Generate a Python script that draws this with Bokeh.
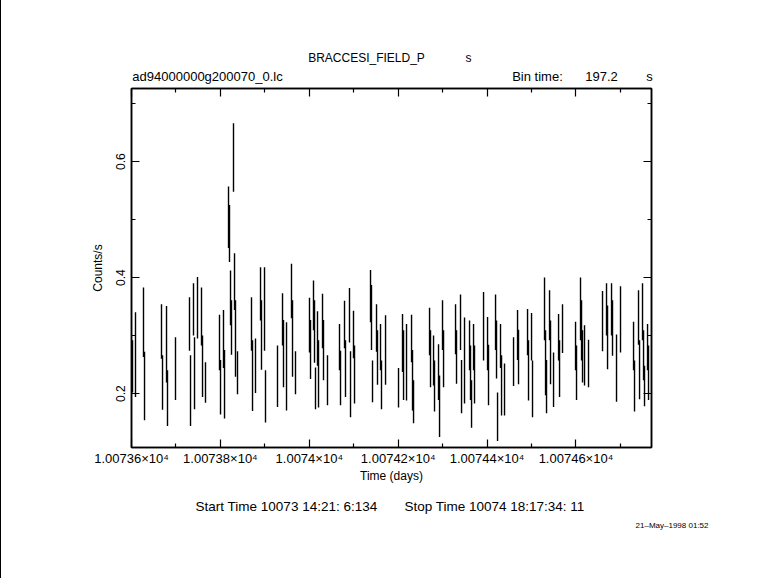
from bokeh.plotting import figure
from bokeh.models import Range1d, FixedTicker, LinearAxis, ColumnDataSource, Title
from bokeh.embed import file_html
from bokeh.resources import INLINE

# ---- data ----
time_days = [
    10073.6023, 10073.6090, 10073.6270, 10073.6293, 10073.6675, 10073.6698, 10073.6788, 10073.6810,
    10073.6990, 10073.7305, 10073.7328, 10073.7395, 10073.7418, 10073.7485, 10073.7575, 10073.7598,
    10073.7665, 10073.7980, 10073.8003, 10073.8070, 10073.8093, 10073.8183, 10073.8205, 10073.8228,
    10073.8250, 10073.8295, 10073.8318, 10073.8340, 10073.8385, 10073.8700, 10073.8723, 10073.8790,
    10073.8903, 10073.8925, 10073.8993, 10073.9015, 10073.9285, 10073.9398, 10073.9420, 10073.9488,
    10073.9600, 10073.9623, 10073.9690, 10074.0005, 10074.0028, 10074.0095, 10074.0118, 10074.0140,
    10074.0185, 10074.0208, 10074.0298, 10074.0320, 10074.0410, 10074.0680, 10074.0703, 10074.0793,
    10074.0815, 10074.0905, 10074.0928, 10074.0995, 10074.1018, 10074.1378, 10074.1400, 10074.1423,
    10074.1513, 10074.1535, 10074.1603, 10074.1625, 10074.1716, 10074.2008, 10074.2098, 10074.2121,
    10074.2188, 10074.2301, 10074.2323, 10074.2346, 10074.2706, 10074.2728, 10074.2796, 10074.2818,
    10074.2908, 10074.2931, 10074.2998, 10074.3021, 10074.3291, 10074.3313, 10074.3403, 10074.3426,
    10074.3493, 10074.3606, 10074.3628, 10074.3651, 10074.3696, 10074.3718, 10074.3921, 10074.4011,
    10074.4033, 10074.4191, 10074.4213, 10074.4236, 10074.4303, 10074.4326, 10074.4393, 10074.4596,
    10074.4686, 10074.4708, 10074.4911, 10074.4933, 10074.5001, 10074.5023, 10074.5293, 10074.5316,
    10074.5338, 10074.5406, 10074.5428, 10074.5496, 10074.5609, 10074.5631, 10074.5698, 10074.5991,
    10074.6013, 10074.6103, 10074.6126, 10074.6148, 10074.6193, 10074.6283, 10074.6598, 10074.6688,
    10074.6711, 10074.6801, 10074.6823, 10074.6913, 10074.7003, 10074.7296, 10074.7318, 10074.7408,
    10074.7431, 10074.7498, 10074.7521, 10074.7543, 10074.7611, 10074.7633,
]
rate = [
    0.247, 0.267, 0.323, 0.213, 0.307, 0.219, 0.285, 0.192,
    0.243, 0.320, 0.205, 0.345, 0.235, 0.348, 0.333, 0.247,
    0.219, 0.288, 0.211, 0.294, 0.216, 0.504, 0.476, 0.365,
    0.314, 0.607, 0.393, 0.295, 0.236, 0.320, 0.231, 0.248,
    0.372, 0.301, 0.346, 0.195, 0.230, 0.328, 0.269, 0.247,
    0.377, 0.295, 0.236, 0.318, 0.276, 0.352, 0.307, 0.209,
    0.295, 0.234, 0.325, 0.275, 0.223, 0.280, 0.227, 0.319,
    0.243, 0.335, 0.216, 0.302, 0.233, 0.368, 0.331, 0.221,
    0.313, 0.262, 0.280, 0.215, 0.275, 0.210, 0.287, 0.249,
    0.254, 0.295, 0.223, 0.186, 0.307, 0.260, 0.257, 0.213,
    0.237, 0.178, 0.318, 0.260, 0.311, 0.263, 0.323, 0.212,
    0.257, 0.283, 0.236, 0.182, 0.280, 0.233, 0.316, 0.286,
    0.232, 0.323, 0.276, 0.160, 0.282, 0.214, 0.207, 0.255,
    0.301, 0.263, 0.306, 0.240, 0.298, 0.208, 0.346, 0.253,
    0.212, 0.335, 0.271, 0.224, 0.297, 0.243, 0.312, 0.282,
    0.236, 0.346, 0.309, 0.264, 0.266, 0.252, 0.325, 0.345,
    0.297, 0.345, 0.313, 0.244, 0.328, 0.282, 0.213, 0.331,
    0.241, 0.341, 0.266, 0.213, 0.280, 0.236,
]
rate_err = [
    0.045, 0.073, 0.060, 0.059, 0.047, 0.047, 0.066, 0.048,
    0.054, 0.046, 0.061, 0.045, 0.062, 0.053, 0.050, 0.053,
    0.035, 0.048, 0.047, 0.050, 0.059, 0.053, 0.049, 0.047,
    0.047, 0.059, 0.049, 0.066, 0.037, 0.046, 0.061, 0.047,
    0.046, 0.060, 0.072, 0.045, 0.053, 0.045, 0.058, 0.076,
    0.047, 0.066, 0.037, 0.047, 0.051, 0.043, 0.054, 0.036,
    0.047, 0.058, 0.047, 0.052, 0.043, 0.040, 0.047, 0.041,
    0.049, 0.047, 0.057, 0.041, 0.050, 0.045, 0.056, 0.036,
    0.041, 0.047, 0.040, 0.042, 0.060, 0.034, 0.050, 0.060,
    0.066, 0.041, 0.052, 0.037, 0.041, 0.049, 0.043, 0.044,
    0.048, 0.053, 0.043, 0.049, 0.043, 0.046, 0.048, 0.046,
    0.074, 0.043, 0.047, 0.041, 0.040, 0.050, 0.059, 0.046,
    0.052, 0.048, 0.050, 0.042, 0.038, 0.052, 0.045, 0.042,
    0.043, 0.047, 0.040, 0.052, 0.041, 0.049, 0.054, 0.056,
    0.046, 0.043, 0.055, 0.047, 0.040, 0.049, 0.042, 0.042,
    0.047, 0.054, 0.052, 0.045, 0.052, 0.041, 0.052, 0.045,
    0.055, 0.045, 0.048, 0.058, 0.057, 0.042, 0.044, 0.047,
    0.051, 0.049, 0.043, 0.035, 0.040, 0.047,
]
bin_time_s = 197.2

x_ticks = [10073.6, 10073.8, 10074.0, 10074.2, 10074.4, 10074.6]
x_tick_labels = ["1.00736×10⁴", "1.00738×10⁴", "1.0074×10⁴", "1.00742×10⁴", "1.00744×10⁴", "1.00746×10⁴"]
x_minor = [10073.7, 10073.9, 10074.1, 10074.3, 10074.5, 10074.7]
y_ticks = [0.2, 0.4, 0.6]
y_tick_labels = ["0.2", "0.4", "0.6"]
y_minor = [0.1, 0.3, 0.5, 0.7]

# header / footer texts and the time (days) under which each one is centred
header_top = ["BRACCESI_FIELD_P", "s"]
header_top_at = [10074.1288, 10074.3583]
header_row = ["ad94000000g200070_0.lc", "Bin time:", "197.2", "s"]
header_row_at = [10073.7710, 10074.5135, 10074.6575, 10074.7655]
footer_row = ["Start Time 10073 14:21: 6:134", "Stop Time 10074 18:17:34: 11"]
footer_row_at = [10073.9488, 10074.4168]
date_stamp = "21–May–1998 01:52"

FONT = "Liberation Sans"
W, H = 780, 578
BL, BR, FT, FB = 130, 130, 88, 447   # left/right borders, frame top/bottom on the page

half_bin = bin_time_s / 86400.0 / 2.0
src = ColumnDataSource(dict(
    t=time_days,
    lo=[r - e for r, e in zip(rate, rate_err)],
    hi=[r + e for r, e in zip(rate, rate_err)],
    r=rate,
    t0=[t - half_bin for t in time_days],
    t1=[t + half_bin for t in time_days],
))

p = figure(width=W, height=H, output_backend="svg", toolbar_location=None,
           x_range=Range1d(10073.6, 10074.77), y_range=Range1d(0.107, 0.726),
           x_axis_location=None, y_axis_location=None,
           min_border_left=BL, min_border_right=BR, min_border_top=FT,
           min_border_bottom=H - FB)
p.grid.visible = False
p.outline_line_color = "black"
p.outline_line_width = 1.5
p.background_fill_color = "white"
p.border_fill_color = "white"
p.styles = {"border-left": "1px solid black"}

p.segment(x0="t", y0="lo", x1="t", y1="hi", source=src, line_color="black", line_width=1.4)
p.segment(x0="t0", y0="r", x1="t1", y1="r", source=src, line_color="black", line_width=1.4)

xt = FixedTicker(ticks=x_ticks, minor_ticks=x_minor)
yt = FixedTicker(ticks=y_ticks, minor_ticks=y_minor)


def style(ax, show_labels, size="13px"):
    ax.axis_line_color = "black"
    ax.axis_line_width = 1.5
    ax.major_tick_in = 8
    ax.major_tick_out = 0
    ax.minor_tick_in = 4
    ax.minor_tick_out = 0
    ax.major_tick_line_color = "black"
    ax.minor_tick_line_color = "black"
    ax.major_tick_line_width = 1.2
    ax.minor_tick_line_width = 1.2
    ax.major_label_text_font = FONT
    ax.major_label_text_font_size = size if show_labels else "1px"
    ax.major_label_text_color = "black" if show_labels else None
    ax.axis_label_text_font = FONT
    ax.axis_label_text_font_size = "12px"
    ax.axis_label_text_font_style = "normal"
    ax.axis_label_text_color = "black"


bottom = LinearAxis(ticker=xt, axis_label="Time (days)")
style(bottom, True)
bottom.major_label_overrides = dict(zip(x_ticks, x_tick_labels))
bottom.major_label_standoff = 3
bottom.axis_label_standoff = 0
p.add_layout(bottom, "below")

top = LinearAxis(ticker=xt)
style(top, False)
top.major_label_standoff = 0
p.add_layout(top, "above")

left = LinearAxis(ticker=yt, axis_label="Counts/s")
style(left, True, "12px")
left.major_label_orientation = "vertical"
left.major_label_standoff = 6
left.axis_label_standoff = 9
left.major_label_overrides = dict(zip(y_ticks, y_tick_labels))
p.add_layout(left, "left")

right = LinearAxis(ticker=yt)
style(right, False)
right.major_label_standoff = 0
p.add_layout(right, "right")


def text_row(side, at, texts, standoff, size="12px"):
    ax = LinearAxis(ticker=FixedTicker(ticks=at, minor_ticks=[]))
    ax.major_label_overrides = dict(zip(at, texts))
    ax.axis_line_color = None
    ax.major_tick_line_color = None
    ax.minor_tick_line_color = None
    ax.major_tick_in = 0
    ax.major_tick_out = 0
    ax.minor_tick_in = 0
    ax.minor_tick_out = 0
    ax.major_label_standoff = standoff
    ax.major_label_text_font = FONT
    ax.major_label_text_font_size = size
    ax.major_label_text_color = "black"
    p.add_layout(ax, side)


text_row("above", header_row_at, header_row, 5, "13px")
text_row("above", header_top_at, header_top, 1, "12px")
text_row("below", footer_row_at, footer_row, 13, "13.5px")

p.add_layout(Title(text=date_stamp, align="right", offset=-57, standoff=5,
                   text_font=FONT, text_font_size="8px", text_font_style="normal",
                   text_color="black"), "below")

open("out.html", "w").write(file_html(p, INLINE))
